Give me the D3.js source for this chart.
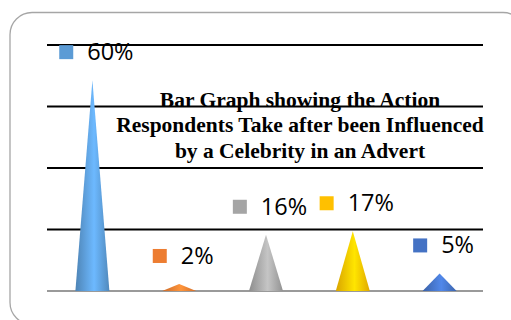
<!DOCTYPE html>
<html><head><meta charset="utf-8">
<script src="https://cdn.jsdelivr.net/npm/d3@7"></script>
<style>html,body{margin:0;padding:0;background:#fff}svg{display:block}</style>
</head><body>
<svg id="chart" width="511" height="320"></svg>
<script>
// ---- data ----
const categories = ["Cat 1", "Cat 2", "Cat 3", "Cat 4", "Cat 5"];
const values = [60, 2, 16, 17, 5];
const valueLabels = ["60%", "2%", "16%", "17%", "5%"];
const colors = ["#5B9BD5", "#ED7D31", "#A5A5A5", "#FFC000", "#4472C4"];
const gridValues = [17.5, 35, 52.5, 70];
const titleLines = [
  "Bar Graph showing the Action",
  "Respondents Take after been Influenced",
  "by a Celebrity in an Advert"
];

const svg = d3.select("#chart");

// outer rounded frame
svg.append("rect")
  .attr("x", 10).attr("y", 12.5).attr("width", 515).attr("height", 312)
  .attr("rx", 22).attr("ry", 22)
  .attr("fill", "#fff").attr("stroke", "#a6a6a6").attr("stroke-width", 1.3);

const x = d3.scaleBand().domain(categories).range([49, 483]).padding(0);
const y = d3.scaleLinear().domain([0, 70]).range([291, 45]);

// gradients for cones
const defs = svg.append("defs");
function shade(c, k) { return d3.color(c).darker(k).formatHex(); }
function tint(c, k) { return d3.color(c).brighter(k).formatHex(); }
colors.forEach((c, i) => {
  const g = defs.append("linearGradient").attr("id", "g" + i)
    .attr("x1", "0%").attr("x2", "100%").attr("y1", "0%").attr("y2", "0%");
  g.append("stop").attr("offset", "0%").attr("stop-color", shade(c, 0.45));
  g.append("stop").attr("offset", "55%").attr("stop-color", tint(c, 0.5));
  g.append("stop").attr("offset", "100%").attr("stop-color", shade(c, 0.35));
});

// gridlines
svg.append("g").selectAll("line").data(gridValues).join("line")
  .attr("x1", 47).attr("x2", 483)
  .attr("y1", d => y(d)).attr("y2", d => y(d))
  .attr("stroke", "#000").attr("stroke-width", 2);

// baseline
svg.append("line")
  .attr("x1", 47).attr("x2", 483).attr("y1", y(0)).attr("y2", y(0))
  .attr("stroke", "#9a9a9a").attr("stroke-width", 2.2);

// cones
const half = x.bandwidth() * 0.196;
svg.append("g").selectAll("path").data(categories).join("path")
  .attr("d", (c, i) => {
    const cx = x(c) + x.bandwidth() / 2;
    return `M${cx - half},${y(0)} L${cx},${y(values[i])} L${cx + half},${y(0)} Z`;
  })
  .attr("fill", (c, i) => `url(#g${i})`);

// title
svg.append("g").selectAll("text").data(titleLines).join("text")
  .attr("x", 300).attr("y", (d, i) => 106.5 + i * 25.5)
  .attr("text-anchor", "middle")
  .attr("font-family", "'Liberation Serif', 'Times New Roman', serif")
  .attr("font-weight", "bold").attr("font-size", 21.5)
  .attr("fill", "#000")
  .text(d => d);

// data labels with legend keys
const lab = svg.append("g").selectAll("g").data(categories).join("g");
lab.each(function (c, i) {
  const g = d3.select(this);
  const cx = x(c) + x.bandwidth() / 2 + 4;
  const base = y(values[i]) - 20;
  const t = g.append("text")
    .attr("font-family", "'Open Sans', 'Liberation Sans', sans-serif")
    .attr("font-size", 23.5).attr("fill", "#000")
    .text(valueLabels[i]);
  const tw = t.node().getComputedTextLength();
  const sq = 14, gap = 14;
  const left = cx - (sq + gap + tw) / 2;
  g.append("rect").attr("x", left).attr("y", base - 15)
    .attr("width", sq).attr("height", sq).attr("fill", colors[i]);
  t.attr("x", left + sq + gap).attr("y", base);
});
</script>
</body></html>
